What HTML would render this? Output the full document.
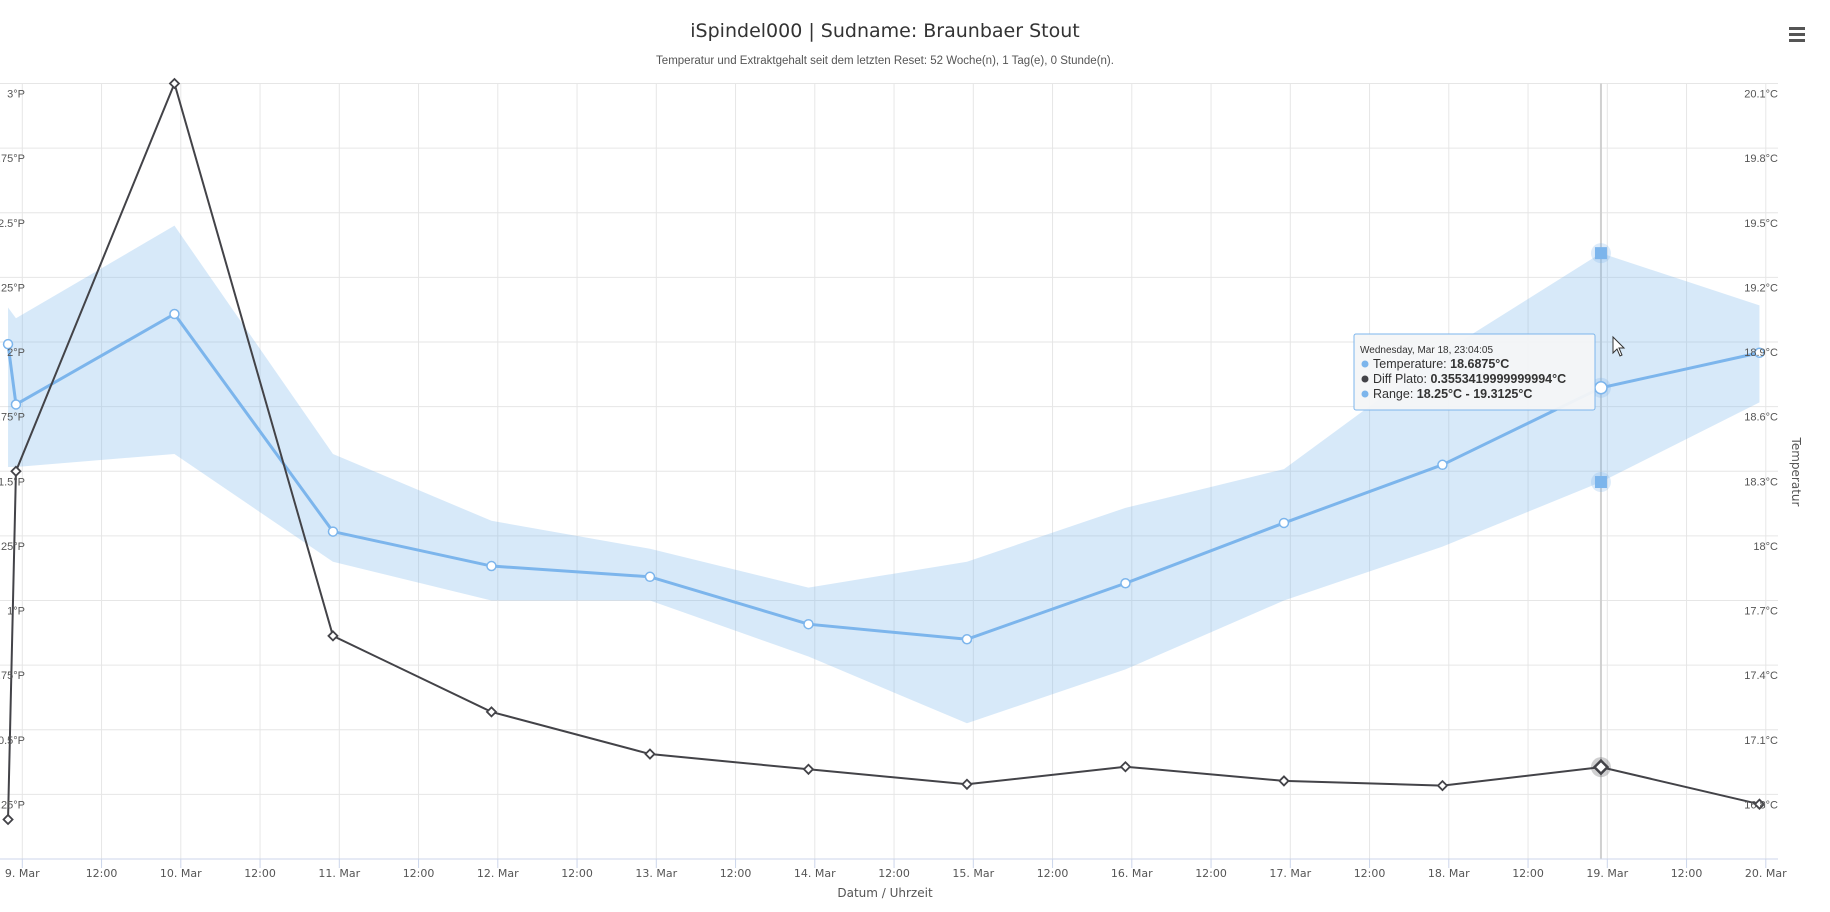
<!DOCTYPE html>
<html><head><meta charset="utf-8"><style>
html,body{margin:0;padding:0;background:#fff;}
svg{display:block;font-family:"DejaVu Sans","Liberation Sans",sans-serif;}
</style></head><body>
<svg id="chart" width="1830" height="912" viewBox="0 0 1830 912">
<text x="885" y="37" text-anchor="middle" font-size="19" fill="#333">iSpindel000 | Sudname: Braunbaer Stout</text>
<text x="885" y="64" text-anchor="middle" font-size="11.5" fill="#555" font-family="Liberation Sans, sans-serif">Temperatur und Extraktgehalt seit dem letzten Reset: 52 Woche(n), 1 Tag(e), 0 Stunde(n).</text>
<g>
<rect x="1789" y="27" width="16" height="3" fill="#555"/><rect x="1789" y="33" width="16" height="3" fill="#555"/><rect x="1789" y="39" width="16" height="3" fill="#555"/>
</g>
<g id="grid"></g>
<g id="series"></g>
<g id="axes"></g>
<text x="885" y="897" text-anchor="middle" font-size="12" fill="#555">Datum / Uhrzeit</text>
<text transform="translate(1792,472) rotate(90)" text-anchor="middle" font-size="12" fill="#555">Temperatur</text>
<g font-family="Liberation Sans, sans-serif">
<rect x="1354" y="334" width="241" height="76" rx="2" fill="#f4f5f7" fill-opacity="0.95" stroke="#7cb5ec" stroke-width="1"/>
<text x="1360" y="353" font-size="10" fill="#333">Wednesday, Mar 18, 23:04:05</text>
<circle cx="1365" cy="364" r="3.5" fill="#7cb5ec"/>
<text x="1373" y="368" font-size="12.5" fill="#333">Temperature: <tspan font-weight="bold">18.6875°C</tspan></text>
<circle cx="1365" cy="379" r="3.5" fill="#434348"/>
<text x="1373" y="383" font-size="12.5" fill="#333">Diff Plato: <tspan font-weight="bold">0.3553419999999994°C</tspan></text>
<circle cx="1365" cy="394" r="3.5" fill="#7cb5ec"/>
<text x="1373" y="398" font-size="12.5" fill="#333">Range: <tspan font-weight="bold">18.25°C - 19.3125°C</tspan></text>
</g>
<path d="M1613 337 L1613 353 L1617 349 L1620 356 L1622 355 L1619 348 L1624 348 Z" fill="#fff" stroke="#333" stroke-width="1"/>
</svg>
<script>
// data: day offsets from 9. Mar 00:00
const dayOffsets = [-0.09,-0.04,0.96,1.96,2.96,3.96,4.96,5.96,6.96,7.96,8.96,9.96,10.96];
const temperature = [18.89,18.61,19.03,18.02,17.86,17.81,17.59,17.52,17.78,18.06,18.33,18.6875,18.85];
const rangeLow = [18.32,18.32,18.38,17.88,17.70,17.70,17.44,17.13,17.38,17.70,17.95,18.25,18.62];
const rangeHigh = [19.06,19.01,19.44,18.38,18.07,17.94,17.76,17.88,18.13,18.31,18.85,19.3125,19.07];
const diffPlato = [0.153,1.5,3.0,0.863,0.569,0.406,0.347,0.289,0.357,0.302,0.284,0.3553,0.212];
const dayLabels = ["9. Mar","10. Mar","11. Mar","12. Mar","13. Mar","14. Mar","15. Mar","16. Mar","17. Mar","18. Mar","19. Mar","20. Mar"];
const tempTicks = [20.1,19.8,19.5,19.2,18.9,18.6,18.3,18,17.7,17.4,17.1,16.8];
const platoTicks = [3,2.75,2.5,2.25,2,1.75,1.5,1.25,1,0.75,0.5,0.25];
const hoverIndex = 11;

const NS="http://www.w3.org/2000/svg";
const X0=22.3, DW=158.5, TOP=83.5, BOT=859, H=BOT-TOP, RIGHT=1778;
const xs=d=>X0+d*DW;
const yT=t=>TOP+(20.1-t)/3.6*H;
const yP=p=>TOP+(3-p)/3*H;
function mk(tag,attrs,parent){const e=document.createElementNS(NS,tag);for(const k in attrs)e.setAttribute(k,attrs[k]);parent.appendChild(e);return e;}
const grid=document.getElementById('grid'),ser=document.getElementById('series'),axes=document.getElementById('axes');

for(let i=0;i<=12;i++){const y=TOP+i*H/12;const l=mk('line',{x1:0,x2:RIGHT,y1:y,y2:y,stroke:'#e6e6e6','stroke-width':1},grid);

}
for(let h=0;h<=22;h++){const x=xs(h/2);const l=mk('line',{x1:x,x2:x,y1:TOP,y2:BOT,stroke:'#e6e6e6','stroke-width':1},grid);

}
const xl=mk('line',{x1:0,x2:RIGHT,y1:BOT,y2:BOT,stroke:'#ccd6eb','stroke-width':1},axes);


for(let h=0;h<=22;h++){const x=xs(h/2);
mk('line',{x1:x,x2:x,y1:BOT,y2:BOT+9,stroke:'#ccd6eb'},axes);
const t=mk('text',{x:x,y:BOT+18,'text-anchor':'middle','font-size':11,fill:'#555'},axes);
t.textContent=h%2===0?dayLabels[h/2]:'12:00';

}
tempTicks.forEach(v=>{const t=mk('text',{x:1778,y:yT(v)+14,'text-anchor':'end','font-size':11,fill:'#555','font-family':'Liberation Sans, sans-serif'},axes);
t.textContent=v+'°C';

});
platoTicks.forEach(v=>{const t=mk('text',{x:25,y:yP(v)+14,'text-anchor':'end','font-size':11,fill:'#555','font-family':'Liberation Sans, sans-serif'},axes);
t.textContent=v+'°P';

});
const ch=mk('line',{x1:xs(dayOffsets[hoverIndex]),x2:xs(dayOffsets[hoverIndex]),y1:TOP,y2:BOT,stroke:'#d0d0d0','stroke-width':2},grid);


let d='';dayOffsets.forEach((o,i)=>{d+=(i?'L':'M')+xs(o)+' '+yT(rangeHigh[i])+' ';});
for(let i=dayOffsets.length-1;i>=0;i--)d+='L'+xs(dayOffsets[i])+' '+yT(rangeLow[i])+' ';
const area=mk('path',{d:d+'Z',fill:'#7cb5ec','fill-opacity':0.3},ser);


const tl=mk('polyline',{points:dayOffsets.map((o,i)=>xs(o)+','+yT(temperature[i])).join(' '),fill:'none',stroke:'#7cb5ec','stroke-width':3},ser);


const pl=mk('polyline',{points:dayOffsets.map((o,i)=>xs(o)+','+yP(diffPlato[i])).join(' '),fill:'none',stroke:'#434348','stroke-width':2},ser);


dayOffsets.forEach((o,i)=>{
 const x=xs(o),y=yT(temperature[i]),hv=i===hoverIndex;
 if(hv){mk('circle',{cx:x,cy:y,r:10,fill:'#7cb5ec','fill-opacity':0.25},ser);}
 const c=mk('circle',{cx:x,cy:y,r:hv?6:4.5,fill:'#fff',stroke:'#7cb5ec','stroke-width':1.5},ser);
 
 
 const py=yP(diffPlato[i]),s=hv?6.5:4.5;
 if(hv){mk('circle',{cx:x,cy:py,r:10,fill:'#434348','fill-opacity':0.25},ser);}
 const p=mk('path',{d:`M${x} ${py-s} L${x+s} ${py} L${x} ${py+s} L${x-s} ${py} Z`,fill:'#fff',stroke:'#434348','stroke-width':hv?2.5:1.8},ser);
 
 
 if(hv){[rangeHigh[i],rangeLow[i]].forEach(v=>{const yy=yT(v);
  mk('circle',{cx:x,cy:yy,r:10,fill:'#7cb5ec','fill-opacity':0.25},ser);
  const r=mk('rect',{x:x-6,y:yy-6,width:12,height:12,fill:'#7cb5ec'},ser);
  
  });}
});
</script>
</body></html>
